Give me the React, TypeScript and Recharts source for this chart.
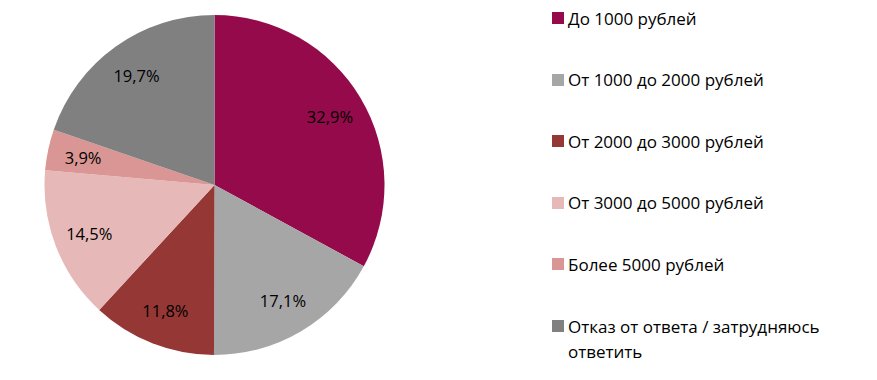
import React from "react";
import { PieChart, Pie, Cell, Legend } from "recharts";

const categories = [
  "До 1000 рублей",
  "От 1000 до 2000 рублей",
  "От 2000 до 3000 рублей",
  "От 3000 до 5000 рублей",
  "Более 5000 рублей",
  "Отказ от ответа / затрудняюсь ответить",
];
const values = [32.9, 17.1, 11.8, 14.5, 3.9, 19.7];
const colors = ["#940A4B", "#A6A6A6", "#953735", "#E6B9B8", "#D99694", "#808080"];

const data = categories.map((name, i) => ({ name, value: values[i] }));

const FONT = "'Open Sans', sans-serif";
const RADIAN = Math.PI / 180;

const renderLabel = (props: any) => {
  const { cx, cy, midAngle, outerRadius, value } = props;
  const r = outerRadius * 0.79;
  const x = cx + r * Math.cos(-midAngle * RADIAN);
  const y = cy + r * Math.sin(-midAngle * RADIAN);
  return (
    <text
      x={x}
      y={y}
      fill="#000"
      textAnchor="middle"
      dominantBaseline="central"
      fontSize={16.5}
      fontFamily={FONT}
    >
      {value.toFixed(1).replace(".", ",") + "%"}
    </text>
  );
};

const renderLegend = () => {
  return (
    <div style={{ fontFamily: FONT, fontSize: 17, color: "#000" }}>
      {categories.map((name, i) => (
        <div
          key={i}
          style={{ position: "absolute", top: i * 61.6, left: 0, display: "flex", alignItems: "flex-start", width: 310 }}
        >
          <div style={{ width: 12, height: 12, background: colors[i], marginTop: 6.5, marginRight: 4, flexShrink: 0 }} />
          <div style={{ lineHeight: "25px", width: 290 }}>{name}</div>
        </div>
      ))}
    </div>
  );
};

export default function App() {
  return (
    <div style={{ position: "absolute", left: 0, top: 0, background: "#fff" }}>
      <PieChart width={877} height={380} margin={{ top: 0, right: 0, bottom: 0, left: 0 }}>
        <Pie
          data={data}
          dataKey="value"
          nameKey="name"
          cx={214.5}
          cy={185}
          outerRadius={170}
          startAngle={90}
          endAngle={-270}
          stroke="none"
          label={renderLabel}
          labelLine={false}
          isAnimationActive={false}
        >
          {data.map((d, i) => (
            <Cell key={i} fill={colors[i]} />
          ))}
        </Pie>
        <Legend
          content={renderLegend}
          layout="vertical"
          wrapperStyle={{ position: "absolute", left: 552, top: 5.5, width: 320, height: 360 }}
        />
      </PieChart>
    </div>
  );
}
